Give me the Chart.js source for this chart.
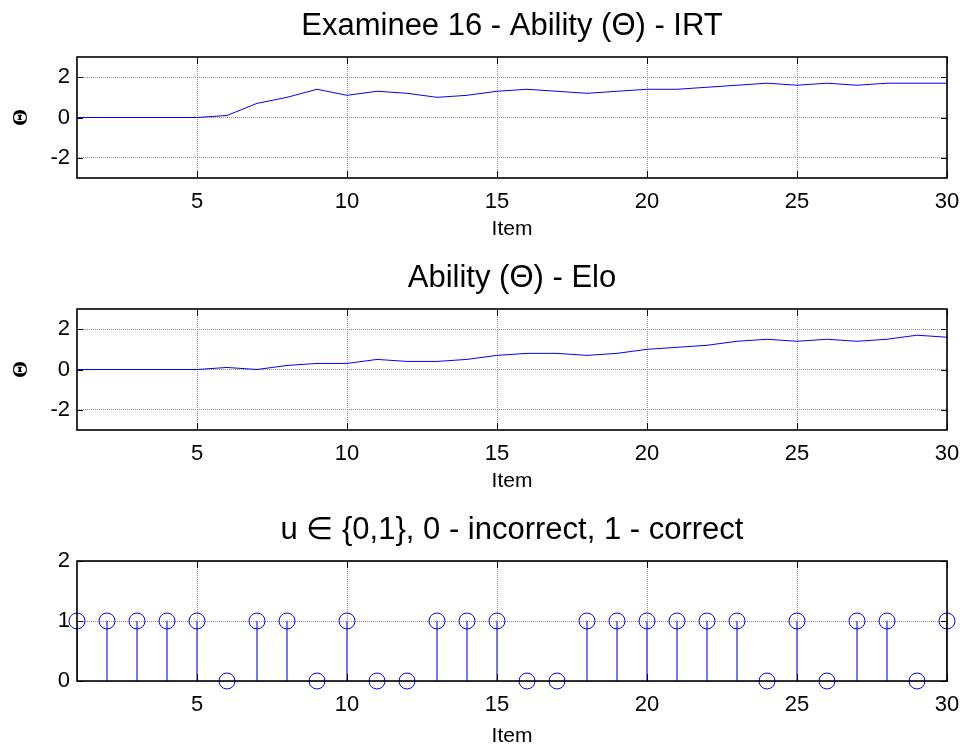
<!DOCTYPE html>
<html><head><meta charset="utf-8">
<script src="https://cdn.jsdelivr.net/npm/chart.js@4"></script>
<style>
html,body{margin:0;padding:0;background:#fff;}
#wrap{position:relative;width:963px;height:751px;overflow:hidden;background:#fff;}
canvas{position:absolute;left:0;}
</style></head><body>
<div id="wrap">
<canvas id="c1" width="963" height="252" style="top:0px"></canvas>
<canvas id="c2" width="963" height="252" style="top:252px"></canvas>
<canvas id="c3" width="963" height="247" style="top:504px"></canvas>
</div>
<script>
// ---- data ----
const items = [1,2,3,4,5,6,7,8,9,10,11,12,13,14,15,16,17,18,19,20,21,22,23,24,25,26,27,28,29,30];
const irtTheta = [0,0,0,0,0,0.1,0.7,1.0,1.4,1.1,1.3,1.2,1.0,1.1,1.3,1.4,1.3,1.2,1.3,1.4,1.4,1.5,1.6,1.7,1.6,1.7,1.6,1.7,1.7,1.7];
const eloTheta = [0,0,0,0,0,0.1,0,0.2,0.3,0.3,0.5,0.4,0.4,0.5,0.7,0.8,0.8,0.7,0.8,1.0,1.1,1.2,1.4,1.5,1.4,1.5,1.4,1.5,1.7,1.6];
const responses = [1,1,1,1,1,0,1,1,0,1,0,0,1,1,1,0,0,1,1,1,1,1,1,0,1,0,1,1,0,1];
const xTicks = [5,10,15,20,25,30];
const thetaTicks = [-2,0,2];
const responseTicks = [0,1,2];
const titleIRT = 'Examinee 16 - Ability (\u0398) - IRT';
const titleElo = 'Ability (\u0398) - Elo';
const titleResp = 'u \u2208 {0,1}, 0 - incorrect, 1 - correct';
const xLabel = 'Item';
const yLabel = '\u0398';

Chart.defaults.font.family = "'Liberation Sans', Arial, sans-serif";
Chart.defaults.color = '#000';

const boxPlugin = {
  id: 'matlabBox',
  afterDatasetsDraw(chart) {
    const {ctx, chartArea: a, scales: {x, y}} = chart;
    ctx.save();
    ctx.strokeStyle = '#000';
    ctx.lineWidth = 1;
    ctx.beginPath();
    x.ticks.forEach(t => {
      const px = Math.round(x.getPixelForValue(t.value)) + 0.5;
      ctx.moveTo(px, a.bottom); ctx.lineTo(px, a.bottom - 7);
      ctx.moveTo(px, a.top); ctx.lineTo(px, a.top + 7);
    });
    y.ticks.forEach(t => {
      const py = Math.round(y.getPixelForValue(t.value)) + 0.5;
      ctx.moveTo(a.left, py); ctx.lineTo(a.left + 6, py);
      ctx.moveTo(a.right, py); ctx.lineTo(a.right - 6, py);
    });
    ctx.stroke();
    ctx.lineWidth = 1.6;
    ctx.strokeRect(a.left, a.top, a.right - a.left, a.bottom - a.top);
    ctx.restore();
  }
};

function xScale(h, padBottom) {
  return {
    type: 'linear', min: 1, max: 30, offset: false,
    afterBuildTicks: s => { s.ticks = xTicks.map(v => ({value: v})); },
    afterFit: s => { s.height = h; s.paddingLeft = 0; s.paddingRight = 0; },
    grid: {color: '#8c8c8c', drawTicks: false, lineWidth: 1, offset: false},
    border: {display: false, dash: [1, 1]},
    ticks: {color: '#000', font: {size: 22}, padding: 11, maxRotation: 0, autoSkip: false},
    title: {display: true, text: xLabel, color: '#000', font: {size: 21}, padding: {top: 0, bottom: padBottom}}
  };
}
function yScale(min, max, tickVals, showTitle) {
  return {
    type: 'linear', min: min, max: max,
    afterBuildTicks: s => { s.ticks = tickVals.map(v => ({value: v})); },
    afterFit: s => { s.width = 77; s.paddingTop = 0; s.paddingBottom = 0; },
    grid: {color: '#8c8c8c', drawTicks: false, lineWidth: 1},
    border: {display: false, dash: [1, 1]},
    ticks: {color: '#000', font: {size: 22}, padding: 7},
    title: {display: showTitle, text: yLabel, color: '#000',
            font: {size: 22, weight: 'bold', family: "'Liberation Serif', serif"}, padding: {top: 8, bottom: 0}}
  };
}
function commonOpts(title, xs, ys) {
  return {
    responsive: false, animation: false, events: [], devicePixelRatio: 1,
    layout: {padding: {left: 0, right: 16, top: 0, bottom: 0}},
    plugins: {
      legend: {display: false}, tooltip: {enabled: false},
      title: {display: true, text: title, fullSize: false, color: '#000',
              font: {size: 31, weight: 'normal'}, padding: {top: 8, bottom: 11.8}}
    },
    scales: {x: xs, y: ys}
  };
}
function lineChart(id, title, values) {
  new Chart(document.getElementById(id), {
    type: 'line',
    data: {datasets: [{
      data: items.map((x, i) => ({x: x, y: values[i]})),
      borderColor: '#0000ff', borderWidth: 1, pointRadius: 0, tension: 0, fill: false
    }]},
    options: commonOpts(title, xScale(74, 10), yScale(-3, 3, thetaTicks, true)),
    plugins: [boxPlugin]
  });
}
lineChart('c1', titleIRT, irtTheta);
lineChart('c2', titleElo, eloTheta);

const respPts = items.map((x, i) => ({x: x, y: responses[i]}));
new Chart(document.getElementById('c3'), {
  type: 'bar',
  data: {datasets: [
    {type: 'bar', data: respPts, backgroundColor: '#5a5aff', barThickness: 1, order: 2},
    {type: 'scatter', data: respPts, pointStyle: 'circle', pointRadius: 8,
     pointBorderColor: '#0000ff', borderColor: '#0000ff', pointBackgroundColor: 'rgba(0,0,0,0)',
     backgroundColor: 'rgba(0,0,0,0)', pointBorderWidth: 1, borderWidth: 1, clip: false, order: 1}
  ]},
  options: commonOpts(titleResp, xScale(70, 2), yScale(0, 2, responseTicks, false)),
  plugins: [boxPlugin]
});
</script>
</body></html>
